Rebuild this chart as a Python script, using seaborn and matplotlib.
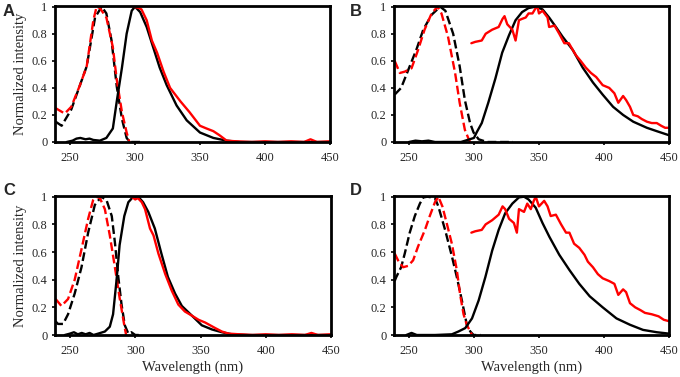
import numpy as np
import pandas as pd
import matplotlib.pyplot as plt
import seaborn as sns

# ---- panel A ----
a_exc_blk_x = [239, 243.6, 251, 257.7, 262.9, 269.3, 274.4, 278, 282, 286, 290, 293.6, 296, 300, 304]
a_exc_blk_y = [0.15, 0.12, 0.24, 0.42, 0.56, 0.92, 1.0, 0.95, 0.75, 0.41, 0.17, 0.03, 0.0, 0.0, 0.0]
a_exc_red_x = [239, 246, 251, 257.7, 262.9, 268, 270.5, 273, 278, 283, 286, 290, 293.6, 295.7]
a_exc_red_y = [0.25, 0.21, 0.26, 0.42, 0.56, 0.9, 1.0, 0.99, 0.92, 0.7, 0.46, 0.22, 0.07, 0.0]
a_em_blk_x = [247.5, 252, 255, 258, 262, 265, 268, 273, 278, 283, 286, 290, 293.6, 297.5, 300, 304, 309,
              314, 319, 324.4, 332, 339.8, 350, 360.3, 370.5, 381, 450]
a_em_blk_y = [0.0, 0.01, 0.025, 0.03, 0.02, 0.025, 0.015, 0.01, 0.03, 0.1, 0.3, 0.55, 0.8, 0.97, 1.0, 0.96,
              0.85, 0.7, 0.55, 0.42, 0.27, 0.16, 0.07, 0.03, 0.01, 0.0, 0.0]
a_em_red_x = [299, 303, 305, 309, 313, 317, 322, 327, 335, 342, 350, 355, 360.3, 365, 370.5, 378, 390,
              400, 410, 420, 430, 435, 440, 450]
a_em_red_y = [1.0, 0.99, 0.98, 0.9, 0.75, 0.66, 0.52, 0.4, 0.3, 0.22, 0.12, 0.1, 0.08, 0.05, 0.01, 0.005,
              0.0, 0.005, 0.0, 0.005, 0.0, 0.02, 0.0, 0.005]

# ---- panel B ----
b_exc_blk_x = [239, 244, 250.6, 256, 261, 267.4, 274, 278, 284, 289, 293, 297, 299.7, 303.6, 310, 330]
b_exc_blk_y = [0.35, 0.4, 0.56, 0.69, 0.83, 0.94, 1.0, 0.97, 0.8, 0.56, 0.31, 0.14, 0.07, 0.02, 0.0, 0.0]
b_exc_red_x = [239, 243, 246.8, 252, 257, 262, 267.4, 272, 275, 280, 285.5, 289, 293, 296, 297]
b_exc_red_y = [0.6, 0.51, 0.52, 0.545, 0.68, 0.83, 0.95, 1.0, 0.95, 0.78, 0.51, 0.29, 0.09, 0.02, 0.0]
b_em_blk_x = [250, 255, 260, 265, 270, 290, 300, 302, 306, 311, 316.5, 321.7, 327, 332, 337, 342, 347.5,
              352.7, 357.8, 363, 368, 376, 383.6, 391.5, 399, 407, 414.7, 422.5, 433, 440.6, 450]
b_em_blk_y = [0.0, 0.01, 0.005, 0.01, 0.0, 0.0, 0.03, 0.07, 0.14, 0.29, 0.47, 0.66, 0.79, 0.9, 0.96, 0.99,
              1.0, 0.98, 0.92, 0.85, 0.78, 0.68, 0.55, 0.44, 0.35, 0.26, 0.2, 0.15, 0.105, 0.08, 0.05]
b_em_red_x = [298, 301, 306, 309, 314, 319, 322, 323.5, 325.6, 329.5, 332, 334.6, 337, 339.8, 342, 345,
              347.5, 348.8, 350, 352.7, 356.6, 357.8, 362, 365.6, 369.5, 373, 376, 378.5, 382, 386, 390,
              394, 399, 404, 408, 411, 414.7, 417, 420, 422.5, 426, 429, 433, 436.7, 440.6, 444, 447, 450]
b_em_red_y = [0.73, 0.74, 0.75, 0.8, 0.83, 0.85, 0.91, 0.93, 0.87, 0.83, 0.75, 0.9, 0.91, 0.92, 0.95, 0.95,
              0.99, 1.0, 0.95, 0.97, 0.92, 0.85, 0.86, 0.8, 0.73, 0.73, 0.68, 0.64, 0.6, 0.55, 0.51, 0.48,
              0.42, 0.4, 0.36, 0.29, 0.34, 0.31, 0.26, 0.2, 0.19, 0.17, 0.15, 0.14, 0.14, 0.12, 0.105, 0.105]

# ---- panel C ----
c_exc_blk_x = [238.8, 240.8, 244.7, 248.5, 253.6, 258.8, 263.9, 269, 274, 278, 282, 284.4, 287, 289.5,
               292, 294.7, 297, 300, 304]
c_exc_blk_y = [0.1, 0.08, 0.08, 0.15, 0.3, 0.49, 0.74, 0.94, 1.0, 0.975, 0.86, 0.67, 0.42, 0.22, 0.07,
               0.01, 0.02, 0.0, 0.0]
c_exc_red_x = [239, 243.4, 248.5, 253.6, 258.8, 263.9, 267.7, 270, 272.9, 276.7, 280.5, 284.4, 288,
               291.6, 293]
c_exc_red_y = [0.26, 0.21, 0.26, 0.4, 0.62, 0.84, 0.975, 1.0, 0.99, 0.91, 0.72, 0.49, 0.27, 0.07, 0.0]
c_em_blk_x = [246, 250, 253, 256, 259, 262, 265, 268, 271.6, 276.7, 280.5, 283, 285.7, 288, 291.6, 294.7,
              298.5, 302.3, 306, 310, 315, 320, 325, 330.5, 335.7, 343.4, 351, 358.8, 366.4, 374, 387, 450]
c_em_blk_y = [0.0, 0.01, 0.02, 0.005, 0.015, 0.005, 0.015, 0.0, 0.01, 0.025, 0.06, 0.15, 0.4, 0.65, 0.86,
              0.96, 1.0, 1.0, 0.96, 0.89, 0.77, 0.59, 0.42, 0.3, 0.21, 0.14, 0.07, 0.04, 0.02, 0.005, 0.0,
              0.0]
c_em_red_x = [297.2, 300, 302, 305, 307.5, 311.3, 314, 317.7, 323, 328, 333, 338, 343.4, 348.5, 353.6,
              361.3, 366.4, 371.6, 380, 390, 400, 410, 420, 430, 435, 440, 450]
c_em_red_y = [1.0, 0.98, 0.99, 0.96, 0.91, 0.77, 0.72, 0.59, 0.44, 0.32, 0.22, 0.17, 0.14, 0.11, 0.09,
              0.05, 0.025, 0.01, 0.005, 0.0, 0.005, 0.0, 0.005, 0.0, 0.015, 0.0, 0.005]

# ---- panel D ----
d_exc_blk_x = [239, 240.3, 244, 246.8, 250.6, 254.5, 258.4, 261, 264.3, 270, 272.6, 277.8, 283, 286.8,
               290.7, 294.6, 297.2, 299.7, 305]
d_exc_blk_y = [0.39, 0.42, 0.49, 0.59, 0.74, 0.86, 0.95, 0.995, 1.0, 0.99, 0.93, 0.76, 0.57, 0.42, 0.25,
               0.07, 0.025, 0.0, 0.0]
d_exc_red_x = [239, 241.6, 245.5, 249.4, 253.2, 257, 262.3, 266, 270, 272.6, 275.7, 279, 283, 286.8,
               289.4, 292, 294.6, 297.2, 298.5]
d_exc_red_y = [0.59, 0.54, 0.49, 0.5, 0.54, 0.64, 0.76, 0.86, 0.96, 1.0, 0.93, 0.81, 0.66, 0.47, 0.29,
               0.15, 0.07, 0.025, 0.0]
d_em_blk_x = [248, 252, 256, 270, 283, 288, 293.3, 298.5, 303.6, 308.8, 314, 319, 324, 329.5, 334.6,
              338.5, 342, 347.5, 352.7, 358, 365.6, 373.4, 381, 389, 399, 409.6, 420, 430, 440.6, 450]
d_em_blk_y = [0.0, 0.015, 0.0, 0.0, 0.005, 0.025, 0.05, 0.12, 0.25, 0.42, 0.61, 0.76, 0.88, 0.95, 0.995,
              1.0, 0.98, 0.92, 0.81, 0.71, 0.58, 0.47, 0.37, 0.28, 0.2, 0.12, 0.074, 0.037, 0.02, 0.01]
d_em_red_x = [298, 301, 306, 309, 314, 319, 322, 324, 327, 330.7, 333, 334.6, 338.5, 341, 343.7, 346,
              347.5, 350, 354, 356.6, 359, 363, 367, 370.8, 373.4, 377, 381, 385, 387.6, 391.5, 395.3,
              399, 404, 408, 411, 414.7, 417, 420, 424, 428, 431.5, 436.7, 442, 446, 450]
d_em_red_y = [0.74, 0.75, 0.76, 0.8, 0.83, 0.87, 0.93, 0.91, 0.84, 0.81, 0.74, 0.91, 0.89, 0.95, 0.91,
              0.97, 1.0, 0.93, 0.97, 0.93, 0.86, 0.87, 0.8, 0.74, 0.74, 0.66, 0.63, 0.58, 0.53, 0.49, 0.44,
              0.41, 0.39, 0.37, 0.29, 0.33, 0.31, 0.23, 0.2, 0.18, 0.16, 0.15, 0.135, 0.11, 0.1]

panels = {
    'A': [(a_exc_blk_x, a_exc_blk_y, 'black', '--'), (a_exc_red_x, a_exc_red_y, 'red', '--'),
          (a_em_blk_x, a_em_blk_y, 'black', '-'), (a_em_red_x, a_em_red_y, 'red', '-')],
    'B': [(b_exc_blk_x, b_exc_blk_y, 'black', '--'), (b_exc_red_x, b_exc_red_y, 'red', '--'),
          (b_em_blk_x, b_em_blk_y, 'black', '-'), (b_em_red_x, b_em_red_y, 'red', '-')],
    'C': [(c_exc_blk_x, c_exc_blk_y, 'black', '--'), (c_exc_red_x, c_exc_red_y, 'red', '--'),
          (c_em_blk_x, c_em_blk_y, 'black', '-'), (c_em_red_x, c_em_red_y, 'red', '-')],
    'D': [(d_exc_blk_x, d_exc_blk_y, 'black', '--'), (d_exc_red_x, d_exc_red_y, 'red', '--'),
          (d_em_blk_x, d_em_blk_y, 'black', '-'), (d_em_red_x, d_em_red_y, 'red', '-')],
}

sns.set_style("ticks")
plt.rcParams['font.family'] = ['Liberation Serif', 'DejaVu Serif']

fig = plt.figure(figsize=(6.8, 3.77), dpi=100)
W, H = 680, 377
# axes boxes in pixels: left, top, right, bottom
boxes = {'A': (55, 6, 330, 142), 'B': (394, 6, 669, 142),
         'C': (55, 196, 331, 335), 'D': (394, 196, 669, 335)}
letter_pos = {'A': (3, 12), 'B': (350, 12), 'C': (3, 191), 'D': (350, 191)}

for name, curves in panels.items():
    l, t, r, b = boxes[name]
    ax = fig.add_axes([l / W, 1 - b / H, (r - l) / W, (b - t) / H])
    for xs, ys, col, ls in curves:
        df = pd.DataFrame({'wl': xs, 'I': ys})
        sns.lineplot(data=df, x='wl', y='I', ax=ax, color=col, linestyle=ls, lw=1.7,
                     estimator=None, sort=False)
    ax.set_xlim(238.5, 450)
    ax.set_ylim(0, 1.005)
    ax.set_xticks([250, 300, 350, 400, 450])
    ax.set_yticks([0, 0.2, 0.4, 0.6, 0.8, 1.0])
    ax.set_yticklabels(['0', '0.2', '0.4', '0.6', '0.8', '1'])
    ax.tick_params(labelsize=9, length=2.5, width=1.2, color='black')
    ax.tick_params(axis='x', pad=5)
    ax.tick_params(axis='y', pad=3)
    for sp in ax.spines.values():
        sp.set_linewidth(2)
        sp.set_color('black')
    ax.set_xlabel('Wavelength (nm)' if name in 'CD' else '', fontsize=10.5, labelpad=2)
    ax.set_ylabel('Normalized intensity' if name in 'AC' else '', fontsize=10.5, labelpad=3)
    lx, ly = letter_pos[name]
    fig.text(lx / W, 1 - ly / H, name, fontsize=12, fontweight='bold',
             family=['Liberation Sans', 'DejaVu Sans'], va='center', ha='left')

fig.savefig('out.png', dpi=100)
